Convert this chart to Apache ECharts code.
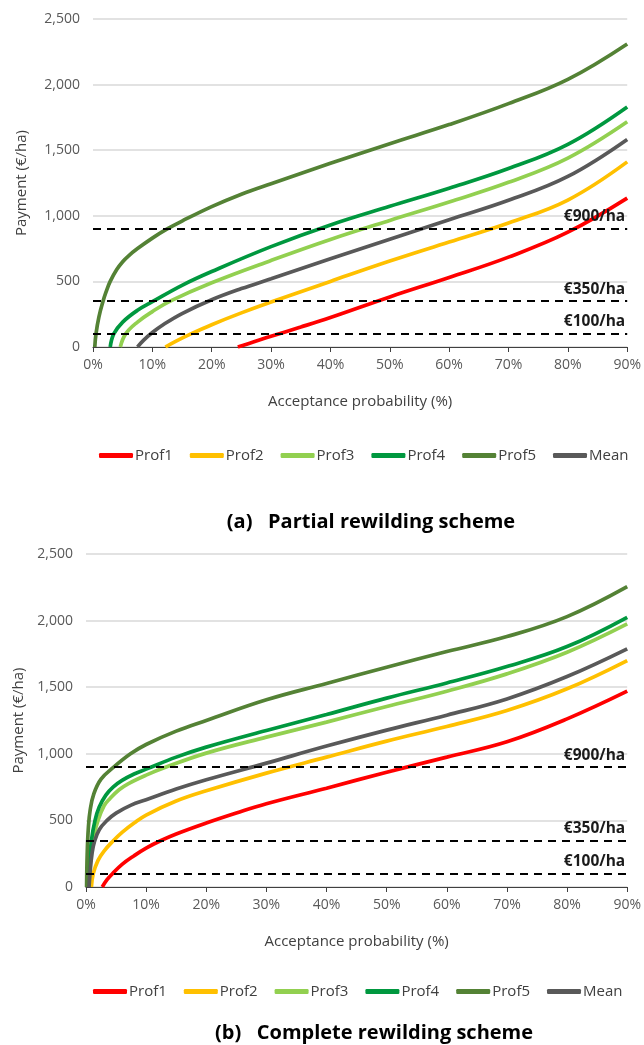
<!DOCTYPE html>
<html>
<head>
<meta charset="utf-8">
<script src="https://cdn.jsdelivr.net/npm/echarts@6/dist/echarts.min.js"></script>
<style>html,body{margin:0;padding:0;background:#fff}#c{width:644px;height:1045px}</style>
</head>
<body>
<div id="c"></div>
<script>
// ---------- data ----------
const seriesNames = ['Prof1', 'Prof2', 'Prof3', 'Prof4', 'Prof5', 'Mean'];
const seriesColors = ['#FF0000', '#FFC000', '#92D050', '#00983F', '#548235', '#595959'];
const thresholds = [100, 350, 900];
const thresholdLabels = ['€100/ha', '€350/ha', '€900/ha'];
const panelTitles = ['(a)   Partial rewilding scheme', '(b)   Complete rewilding scheme'];
const xAxisName = 'Acceptance probability (%)';
const yAxisName = 'Payment (€/ha)';

// [acceptance probability %, payment €/ha] — partial rewilding
const partialProf1 = [[24.4,0],[27,38],[30,82],[35,152],[40,225],[50,382],[60,530],[70,685],[80,875],[90,1135]];
const partialProf2 = [[12.2,0],[14,45],[16.5,100],[20,170],[25,260],[30,343],[40,500],[50,655],[60,800],[70,945],[80,1120],[90,1411]];
const partialProf3 = [[4.6,0],[5.5,100],[7.5,190],[10,270],[13,350],[20,490],[30,660],[40,820],[50,965],[60,1105],[70,1255],[80,1440],[90,1717]];
const partialProf4 = [[2.9,0],[3.5,100],[5,190],[7.5,280],[10,345],[15,470],[20,575],[30,765],[40,930],[50,1072],[60,1210],[70,1360],[80,1545],[90,1830]];
const partialProf5 = [[0.3,0],[0.5,100],[1,230],[1.7,350],[2.2,420],[2.9,500],[4,590],[5,650],[6,695],[7.5,750],[10,830],[12.5,900],[15,960],[20,1070],[25,1165],[30,1245],[40,1400],[50,1550],[60,1695],[70,1855],[80,2040],[90,2310]];
const partialMean  = [[7.5,0],[8.5,50],[10,110],[12,175],[15,255],[20,360],[25,445],[30,520],[40,672],[50,822],[60,970],[70,1118],[80,1300],[90,1582]];

// complete rewilding
const completeProf1 = [[2.7,0],[3.5,55],[4.4,100],[6,170],[8,235],[10,292],[12.3,345],[15,398],[20,480],[25,555],[30,625],[40,742],[50,862],[60,975],[70,1090],[80,1262],[90,1470]];
const completeProf2 = [[0.9,0],[1.2,100],[2,200],[3,270],[4.5,345],[6,410],[8,480],[10,540],[15,645],[20,722],[30,855],[40,975],[50,1095],[60,1205],[70,1325],[80,1488],[90,1700]];
const completeProf3 = [[0.5,0],[0.7,200],[1.1,350],[2,500],[3,610],[4,665],[5.5,730],[7,775],[10,840],[13,895],[20,1005],[30,1125],[40,1238],[50,1355],[60,1470],[70,1600],[80,1762],[90,1975]];
const completeProf4 = [[0.4,0],[0.6,200],[0.9,350],[1.5,500],[2.2,600],[3.3,690],[4.5,750],[6,800],[8,848],[10,885],[15,975],[20,1050],[30,1175],[40,1295],[50,1418],[60,1532],[70,1655],[80,1805],[90,2025]];
const completeProf5 = [[0.1,0],[0.2,250],[0.4,450],[0.7,580],[1.3,700],[2.5,810],[4.6,900],[7.4,1000],[10,1070],[15,1170],[20,1250],[30,1405],[40,1528],[50,1650],[60,1768],[70,1880],[80,2030],[90,2255]];
const completeMean  = [[0.5,0],[0.7,120],[1,250],[1.4,340],[2.2,430],[3.5,500],[5,555],[7.5,615],[10,655],[15,735],[20,805],[30,930],[40,1058],[50,1178],[60,1290],[70,1412],[80,1580],[90,1788]];

const partialData = [partialProf1, partialProf2, partialProf3, partialProf4, partialProf5, partialMean];
const completeData = [completeProf1, completeProf2, completeProf3, completeProf4, completeProf5, completeMean];

// ---------- chart ----------
const FONT = 'Open Sans';
const chart = echarts.init(document.getElementById('c'), null, {renderer: 'canvas'});

const grids = [
  {left: 93, right: 14, top: 19, height: 328},
  {left: 86, right: 14, top: 554, height: 333}
];

function xAxisFor(i) {
  return {
    type: 'value', gridIndex: i, min: 0, max: 90, interval: 10,
    axisLine: {show: true, lineStyle: {color: '#404040', width: 1.2}},
    axisTick: {show: true, inside: false, length: 5, lineStyle: {color: '#404040'}},
    splitLine: {show: false},
    axisLabel: {formatter: '{value}%', color: '#595959', fontSize: 14, fontFamily: FONT, margin: 11},
    name: xAxisName, nameLocation: 'middle', nameGap: 47,
    nameTextStyle: {color: '#404040', fontSize: 15, fontFamily: FONT}
  };
}
function yAxisFor(i, gap) {
  return {
    type: 'value', gridIndex: i, min: 0, max: 2500, interval: 500,
    axisLine: {show: false}, axisTick: {show: false},
    splitLine: {show: true, lineStyle: {color: '#D9D9D9', width: 1.5}},
    axisLabel: {formatter: v => v.toLocaleString('en-US'), color: '#595959', fontSize: 14, fontFamily: FONT, margin: 13},
    name: yAxisName, nameLocation: 'middle', nameGap: gap, nameRotate: 90,
    nameTextStyle: {color: '#404040', fontSize: 15, fontFamily: FONT}
  };
}

const series = [];
[partialData, completeData].forEach((set, gi) => {
  set.forEach((d, k) => {
    series.push({
      name: seriesNames[k], type: 'line', xAxisIndex: gi, yAxisIndex: gi,
      data: d, smooth: 0.4, showSymbol: false, symbol: 'none',
      lineStyle: {width: 3.7, color: seriesColors[k]}, itemStyle: {color: seriesColors[k]},
      z: 3
    });
  });
  series.push({
    name: 'thresholds' + gi, type: 'line', xAxisIndex: gi, yAxisIndex: gi, data: [],
    z: 5,
    markLine: {
      silent: true, symbol: ['none', 'none'],
      lineStyle: {type: [8, 6], color: '#000', width: 2},
      label: {show: true, position: 'insideEndTop', distance: [2, 4],
        fontWeight: 'bold', fontSize: 15.5, color: '#1a1a1a', fontFamily: FONT,
        formatter: p => thresholdLabels[thresholds.indexOf(p.value)]},
      data: thresholds.map(t => ({yAxis: t}))
    }
  });
});

function legendFor(left, top) {
  return {
    data: seriesNames, left: left, top: top, itemWidth: 34, itemHeight: 5, itemGap: 17,
    icon: 'roundRect', textStyle: {color: '#404040', fontSize: 15, fontFamily: FONT, padding: [0, 0, 0, -3]},
    selectedMode: false
  };
}

chart.setOption({
  animation: false,
  backgroundColor: '#fff',
  grid: grids,
  xAxis: [xAxisFor(0), xAxisFor(1)],
  yAxis: [yAxisFor(0, 64), yAxisFor(1, 58)],
  legend: [legendFor(94, 443), legendFor(88, 979)],
  series: series,
  graphic: [
    {type: 'text', x: 371, y: 522, style: {text: panelTitles[0], fontSize: 20, fontWeight: 'bold', fontFamily: FONT, fill: '#000', textAlign: 'center', textVerticalAlign: 'middle'}},
    {type: 'text', x: 374, y: 1033, style: {text: panelTitles[1], fontSize: 20, fontWeight: 'bold', fontFamily: FONT, fill: '#000', textAlign: 'center', textVerticalAlign: 'middle'}}
  ]
});
</script>
</body>
</html>
